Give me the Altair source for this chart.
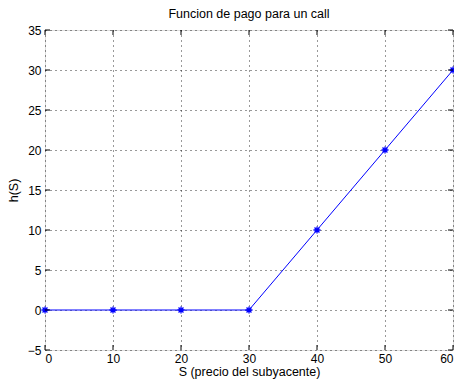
import altair as alt
import pandas as pd

s_vals = [0, 10, 20, 30, 40, 50, 60]
h_vals = [0, 0, 0, 0, 10, 20, 30]
x_ticks = [0, 10, 20, 30, 40, 50, 60]
y_ticks = [-5, 0, 5, 10, 15, 20, 25, 30, 35]

df = pd.DataFrame({"S": s_vals, "h": h_vals})
FONT = "Liberation Sans"
W, H = 408, 320

xs = alt.Scale(domain=[0, 60], nice=False, zero=False)
ys = alt.Scale(domain=[-5, 35], nice=False, zero=False)

x_axis = alt.Axis(values=x_ticks, grid=True, gridColor="#000000", gridDash=[1, 4], gridOpacity=0.8,
                  tickSize=0, domain=False, labelPadding=3, labelFontSize=12, labelFont=FONT,
                  labelColor="#000", labelOverlap=False, title="S (precio del subyacente)", titleFont=FONT,
                  titleFontSize=12.5, titleFontWeight="normal", titleColor="#000", titlePadding=1)
y_axis = alt.Axis(values=y_ticks, grid=True, gridColor="#000000", gridDash=[1, 4], gridOpacity=0.8,
                  tickSize=0, domain=False, labelPadding=4, labelFontSize=12, labelFont=FONT,
                  labelColor="#000", labelOverlap=False, title="h(S)", titleFont=FONT, titleFontSize=12.5,
                  titleFontWeight="normal", titleColor="#000", titlePadding=7)

asterisk = "M0,-1L0,1M-1,0L1,0M-0.7,-0.7L0.7,0.7M-0.7,0.7L0.7,-0.7"

line = alt.Chart(df).mark_line(color="#0000ff", strokeWidth=1).encode(
    x=alt.X("S:Q", scale=xs, axis=x_axis),
    y=alt.Y("h:Q", scale=ys, axis=y_axis),
)
pts = alt.Chart(df).mark_point(shape=asterisk, filled=False, color="#0000ff", size=50, strokeWidth=1.3, opacity=1).encode(
    x=alt.X("S:Q", scale=xs, axis=x_axis), y=alt.Y("h:Q", scale=ys, axis=y_axis)
)

yt = pd.DataFrame({"v": y_ticks})
xt = pd.DataFrame({"v": x_ticks})
tick_style = dict(color="#000", strokeWidth=1)
ytl = alt.Chart(yt).mark_rule(**tick_style).encode(y=alt.Y("v:Q", scale=ys, axis=y_axis), x=alt.value(0), x2=alt.value(5))
ytr = alt.Chart(yt).mark_rule(**tick_style).encode(y=alt.Y("v:Q", scale=ys, axis=y_axis), x=alt.value(W - 5), x2=alt.value(W))
xtb = alt.Chart(xt).mark_rule(**tick_style).encode(x=alt.X("v:Q", scale=xs, axis=x_axis), y=alt.value(H - 5), y2=alt.value(H))
xtt = alt.Chart(xt).mark_rule(**tick_style).encode(x=alt.X("v:Q", scale=xs, axis=x_axis), y=alt.value(0), y2=alt.value(5))

chart = alt.layer(line, pts, ytl, ytr, xtb, xtt).properties(
    width=W, height=H,
    title=alt.TitleParams("Funcion de pago para un call", font=FONT, fontSize=12.5,
                          fontWeight="normal", color="#000", offset=4),
    autosize=alt.AutoSizeParams(type="none"),
    padding={"left": 37, "top": 22, "right": 1, "bottom": 29},
).configure_view(fill="#e6e6e6", stroke="#000", strokeWidth=1.5).configure(background="#ffffff")

chart.save("out.html", embed_options={"renderer": "svg", "actions": False})
